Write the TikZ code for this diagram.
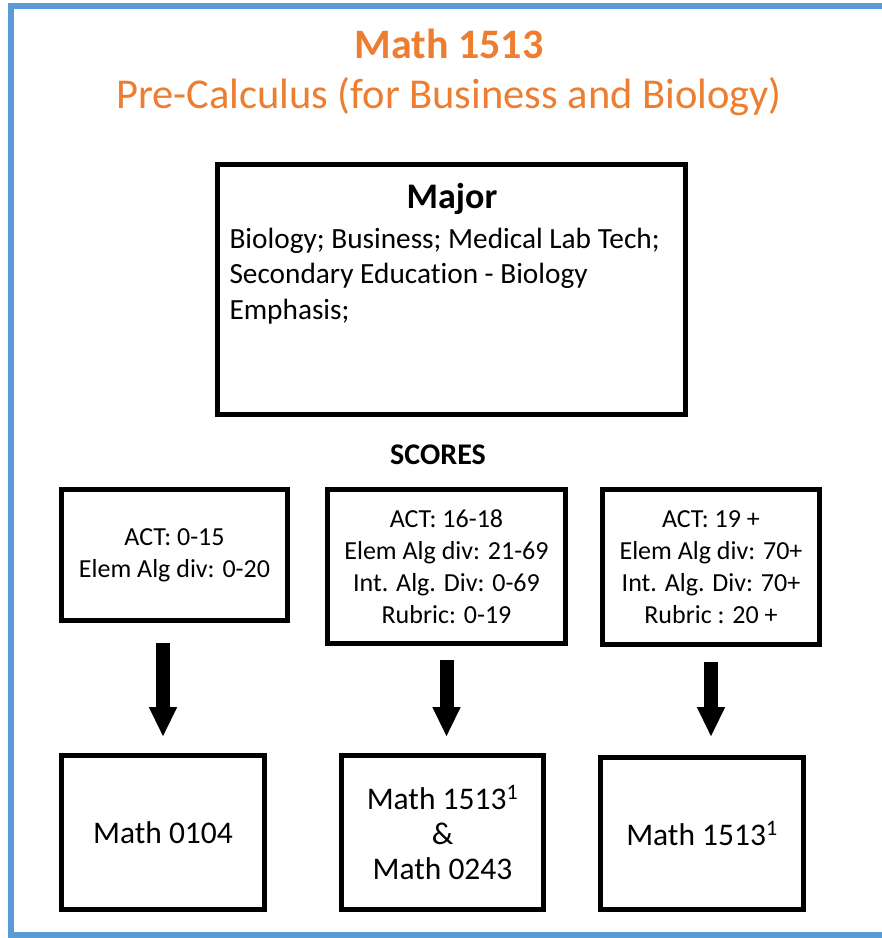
\documentclass[tikz,border=0pt]{standalone}
\usepackage{fontspec}
\setmainfont{Carlito}[Ligatures=NoCommon]
\usetikzlibrary{arrows.meta,positioning}
\definecolor{frameblue}{HTML}{5B9BD5}
\definecolor{titleorange}{HTML}{ED7D31}

\begin{document}
\begin{tikzpicture}[x=1pt,y=-1pt,
    box/.style={draw,line width=5pt,align=center,inner sep=0pt},
    scoretext/.style={font=\fontsize{26}{32}\selectfont},
    coursetext/.style={font=\fontsize{31.5}{35}\selectfont},
    bigarrow/.style={line width=14pt,-{Triangle[width=26pt,length=30pt]}}]

    \useasboundingbox (0,0) rectangle (882,938);
    \draw[frameblue,line width=6pt] (882,6) -- (11,6) -- (11,935) -- (882,935); % keret

    \node[titleorange,font=\bfseries\fontsize{42}{50}\selectfont] (title) at (449,44) {Math 1513};
    \node[titleorange,font=\fontsize{42.5}{50}\selectfont] (subtitle) at (449,97) {Pre-Calculus (for Business and Biology)};

    % major
    \node[box,minimum width=468pt,minimum height=250pt] (major) at (451.5,289.5) {};
    \node[font=\bfseries\fontsize{36}{40}\selectfont] (majorhead) at (452,199) {Major};
    \node[anchor=west,align=left,font=\fontsize{29.3}{35.5}\selectfont] (majorlist) at (226,276)
        {Biology; Business; Medical Lab Tech;\\Secondary Education - Biology\\Emphasis;};

    \node[font=\bfseries\fontsize{30}{36}\selectfont] (scores) at (438,455) {SCORES};

    % scores
    \node[box,scoretext,minimum width=226pt,minimum height=131pt] (scoreA) at (174.5,555)
        {ACT: 0-15\\Elem Alg div: 0-20};
    \node[box,scoretext,minimum width=238pt,minimum height=154pt] (scoreB) at (446.5,566.5)
        {ACT: 16-18\\Elem Alg div: 21-69\\Int. Alg. Div: 0-69\\Rubric: 0-19};
    \node[box,scoretext,minimum width=217pt,minimum height=155pt] (scoreC) at (711,567)
        {ACT: 19 +\\Elem Alg div: 70+\\Int. Alg. Div: 70+\\Rubric : 20 +};

    % courses
    \node[box,coursetext,minimum width=203pt,minimum height=154pt] (courseA) at (163,832.5) {Math 0104};
    \node[box,coursetext,minimum width=202pt,minimum height=154pt] (courseB) at (442.5,832.5)
        {Math 1513\textsuperscript{1}\\\&\\Math 0243};
    \node[box,coursetext,minimum width=203pt,minimum height=152pt] (courseC) at (702,833.5)
        {Math 1513\textsuperscript{1}};

    \draw[bigarrow,shorten <=20pt,shorten >=16pt] (scoreA.south -| courseA.north) -- (courseA.north);
    \draw[bigarrow,shorten <=14pt,shorten >=16pt] (scoreB.south) -- (scoreB.south |- courseB.north);
    \draw[bigarrow,shorten <=15pt,shorten >=18pt] (scoreC.south) -- (scoreC.south |- courseC.north);

\end{tikzpicture}
\end{document}
